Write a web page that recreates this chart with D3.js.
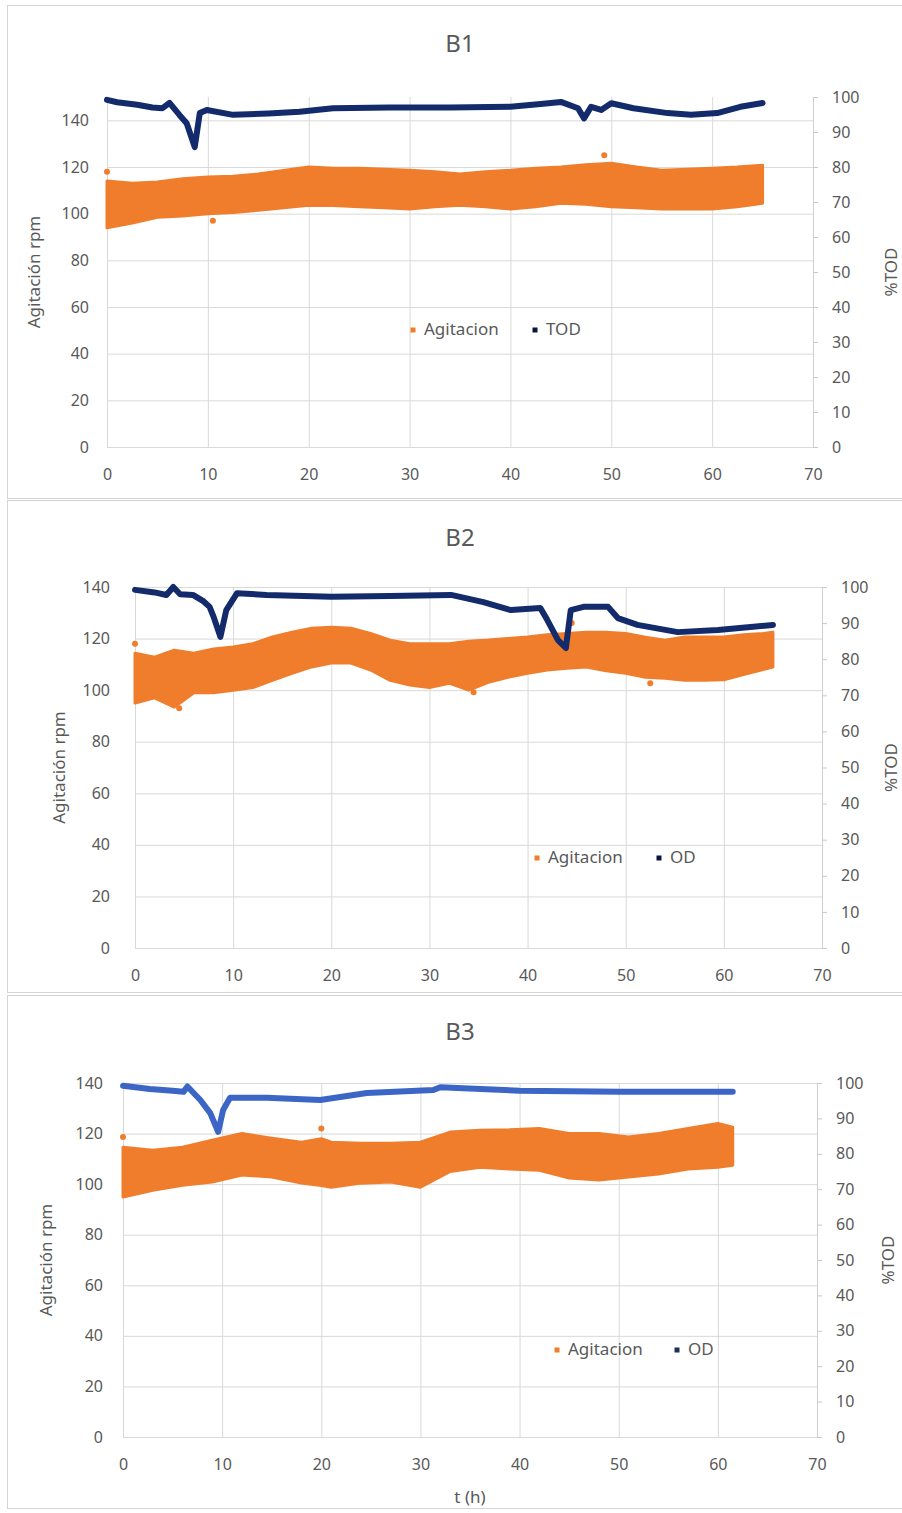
<!DOCTYPE html>
<html>
<head>
<meta charset="utf-8">
<script src="https://cdn.jsdelivr.net/npm/d3@7/dist/d3.min.js"></script>
<style>
  body { margin: 0; background: #fff; }
  text { font-family: "Noto Sans", "Open Sans", sans-serif; fill: #595959; }
</style>
</head>
<body>
<svg width="902" height="1513"></svg>
<script>
// ---- B1 ----
const b1TodTime = [0, 1, 3, 4.5, 5.5, 6.2, 7.2, 7.9, 8.7, 9.2, 9.9, 12.5, 16, 19.1, 22.4, 28, 34, 40, 43, 45, 46.7, 47.3, 48, 49, 50, 52.2, 55.6, 57.9, 60.5, 62.8, 65]
const b1Tod = [99.2, 98.5, 97.8, 97, 96.8, 98.3, 94.8, 92.5, 85.7, 95.4, 96.3, 94.9, 95.3, 95.8, 96.8, 97, 97, 97.2, 98, 98.6, 96.8, 93.9, 97.2, 96.3, 98.2, 96.8, 95.4, 94.9, 95.4, 97.2, 98.3]
const b1AgTime = [0, 2.5, 5, 7.5, 10, 12.5, 15, 17.5, 20, 22.5, 25, 27.5, 30, 32.5, 35, 37.5, 40, 42.5, 45, 47.5, 50, 52.5, 55, 57.5, 60, 62.5, 65]
const b1AgHigh = [114, 113, 113.6, 115, 115.7, 116, 117, 118.5, 120, 119.5, 119.5, 119, 118.6, 118, 117, 118, 118.6, 119.5, 120, 121, 121.6, 120, 118.6, 119, 119.5, 120, 120.8]
const b1AgLow = [94, 96, 98.5, 99, 100, 100.5, 101.5, 102.5, 103.6, 103.5, 103, 102.5, 102, 103, 103.6, 103, 102, 103, 104.5, 104, 103, 102.5, 102, 102, 102, 103, 104.5]
const b1OutTime = [0, 49.3, 10.5]
const b1OutVal = [118, 125, 97]

// ---- B2 ----
const b2OdTime = [0, 2, 3.2, 3.9, 4.6, 5.9, 7, 7.6, 8, 8.7, 9.3, 10.4, 13.4, 20, 26, 32.2, 35.5, 38.3, 41.3, 42, 43.1, 43.9, 44.4, 45.7, 48.2, 49.2, 51.2, 55.3, 59.4, 65]
const b2Od = [99.2, 98.5, 97.8, 100, 98, 97.8, 96, 94.5, 91.8, 86.2, 93.6, 98.3, 97.8, 97.3, 97.5, 97.8, 95.8, 93.6, 94.2, 90.9, 85.3, 83.1, 93.6, 94.5, 94.5, 91.4, 89.5, 87.5, 88.1, 89.5]
const b2AgTime = [0, 2, 4, 6, 8, 10, 12, 14, 16, 18, 20, 22, 24, 26, 28, 30, 32, 34, 36, 38, 40, 42, 44, 46, 48, 50, 52, 54, 56, 58, 60, 62, 64, 65]
const b2AgHigh = [114.3, 112.8, 115.5, 114.3, 116, 116.7, 118, 120.6, 122.5, 124, 124.4, 124, 122, 119.4, 118, 118, 118, 119, 119.4, 120, 120.6, 121.5, 122, 122.5, 122.5, 122, 120.5, 119.4, 120.6, 120.6, 120.6, 121.5, 122, 122.5]
const b2AgLow = [95, 97, 93.4, 99, 99, 100, 101, 103.8, 106.5, 109, 110.5, 110.5, 107.8, 103.8, 102, 101, 102.7, 100, 103, 105, 106.5, 107.8, 108.5, 109, 107.5, 106.5, 105, 104.6, 103.8, 103.8, 104, 106, 108, 109]
const b2OutTime = [0, 44.5, 34.5, 52.5, 4.5]
const b2OutVal = [118, 126, 99.2, 102.7, 93]

// ---- B3 ----
const b3OdTime = [0, 2.7, 5, 6.1, 6.5, 7.8, 8.8, 9.6, 10.1, 10.8, 14.5, 19.9, 24.6, 31.3, 32, 40, 50, 61.5]
const b3Od = [99.2, 98.3, 97.8, 97.5, 99, 95.2, 91.5, 86.2, 92.4, 95.8, 95.8, 95.2, 97.2, 98, 98.8, 97.8, 97.5, 97.5]
const b3AgTime = [0, 3, 6, 9, 12, 15, 18, 20, 21, 24, 27, 30, 33, 36, 39, 42, 45, 48, 51, 54, 57, 60, 61.5]
const b3AgHigh = [114.6, 113.4, 114.6, 117.4, 120, 118.2, 116.6, 118, 116.6, 116.2, 116.2, 116.6, 120.6, 121.3, 121.5, 122, 120, 120, 118.6, 120, 122, 124, 122.5]
const b3AgLow = [94.9, 97.6, 99.6, 100.8, 103.6, 102.8, 100.4, 99.5, 98.8, 100.4, 100.8, 98.8, 105, 106.7, 106, 105.5, 102.4, 101.6, 102.8, 104, 106, 106.7, 107.5]
const b3OutTime = [0, 20]
const b3OutVal = [118.6, 122]

const xTicks = [0, 10, 20, 30, 40, 50, 60, 70]
const rightTicks = [0, 10, 20, 30, 40, 50, 60, 70, 80, 90, 100]

var svg = d3.select("svg");

var orange = "#ef7d2c";

var panels = [
  { title: "B1", odName: "TOD", odTime: b1TodTime, od: b1Tod, agTime: b1AgTime, agHigh: b1AgHigh, agLow: b1AgLow, outTime: b1OutTime, outVal: b1OutVal,
    lineColor: "#132a6b", frameTop: 5, frameBottom: 498, left: 107, right: 813, top: 97, bottom: 447, leftMax: 150,
    titleY: 46, legendY: 330, legendX1: 413, legendX2: 535, leftPad: 18, leftTitleX: 35, rightTitleX: 892 },
  { title: "B2", odName: "OD", odTime: b2OdTime, od: b2Od, agTime: b2AgTime, agHigh: b2AgHigh, agLow: b2AgLow, outTime: b2OutTime, outVal: b2OutVal,
    lineColor: "#132a6b", frameTop: 500, frameBottom: 992, left: 135, right: 822, top: 587, bottom: 948, leftMax: 140,
    titleY: 540, legendY: 858, legendX1: 537, legendX2: 659, leftPad: 25, leftTitleX: 60, rightTitleX: 892 },
  { title: "B3", odName: "OD", odTime: b3OdTime, od: b3Od, agTime: b3AgTime, agHigh: b3AgHigh, agLow: b3AgLow, outTime: b3OutTime, outVal: b3OutVal,
    lineColor: "#3c66c6", frameTop: 995, frameBottom: 1508, left: 123, right: 817, top: 1083, bottom: 1437, leftMax: 140,
    titleY: 1034, legendY: 1350, legendX1: 557, legendX2: 677, leftPad: 20, leftTitleX: 47, rightTitleX: 889, xTitle: "t (h)" }
];

panels.forEach(drawPanel);

function drawPanel(p) {
  var x = d3.scaleLinear().domain([0, 70]).range([p.left, p.right]);
  var yL = d3.scaleLinear().domain([0, p.leftMax]).range([p.bottom, p.top]);
  var yR = d3.scaleLinear().domain([0, 100]).range([p.bottom, p.top]);

  var g = svg.append("g");

  g.append("rect")
    .attr("x", 7.5).attr("y", p.frameTop + 0.5)
    .attr("width", 900).attr("height", p.frameBottom - p.frameTop)
    .attr("fill", "none").attr("stroke", "#d4d4d4");

  // left axis doubles as horizontal grid
  var leftAxis = g.append("g")
    .attr("transform", "translate(" + p.left + ",0)")
    .call(d3.axisLeft(yL).tickValues(d3.range(0, 141, 20)).tickSize(-(p.right - p.left)).tickPadding(p.leftPad));
  leftAxis.select(".domain").remove();
  leftAxis.selectAll("line").attr("stroke", "#d9d9d9");

  var bottomAxis = g.append("g")
    .attr("transform", "translate(0," + p.bottom + ")")
    .call(d3.axisBottom(x).tickValues(xTicks).tickSize(-(p.bottom - p.top)).tickPadding(22));
  bottomAxis.select(".domain").remove();
  bottomAxis.selectAll("line").attr("stroke", "#d9d9d9");

  var rightAxis = g.append("g")
    .attr("transform", "translate(" + p.right + ",0)")
    .call(d3.axisRight(yR).tickValues(rightTicks).tickSize(5).tickSizeOuter(0).tickPadding(14));
  rightAxis.select(".domain").attr("stroke", "#d0d0d0");
  rightAxis.selectAll("line").attr("stroke", "#c8c8c8");

  g.selectAll(".tick text").attr("font-size", 16).attr("fill", "#6a6a6a");

  // agitation band
  var agData = p.agTime.map(function(t, i) { return { t: t, hi: p.agHigh[i], lo: p.agLow[i] }; });
  g.append("path")
    .datum(agData)
    .attr("fill", orange)
    .attr("stroke", orange)
    .attr("stroke-width", 3)
    .attr("stroke-linejoin", "round")
    .attr("d", d3.area()
      .x(function(d) { return x(d.t); })
      .y0(function(d) { return yL(d.lo); })
      .y1(function(d) { return yL(d.hi); }));

  g.selectAll(".outlier")
    .data(p.outTime.map(function(t, i) { return { t: t, v: p.outVal[i] }; }))
    .enter().append("circle")
    .attr("class", "outlier")
    .attr("cx", function(d) { return x(d.t); })
    .attr("cy", function(d) { return yL(d.v); })
    .attr("r", 3)
    .attr("fill", orange);

  // dissolved oxygen line
  var odData = p.odTime.map(function(t, i) { return { t: t, v: p.od[i] }; });
  g.append("path")
    .datum(odData)
    .attr("fill", "none")
    .attr("stroke", p.lineColor)
    .attr("stroke-width", 6)
    .attr("stroke-linejoin", "round")
    .attr("stroke-linecap", "round")
    .attr("d", d3.line()
      .x(function(d) { return x(d.t); })
      .y(function(d) { return yR(d.v); }));

  g.append("text")
    .attr("x", 460).attr("y", p.titleY)
    .attr("text-anchor", "middle").attr("dominant-baseline", "middle")
    .attr("font-size", 24)
    .text(p.title);

  g.append("text")
    .attr("transform", "translate(" + p.leftTitleX + "," + (p.top + p.bottom) / 2 + ") rotate(-90)")
    .attr("text-anchor", "middle").attr("dominant-baseline", "middle")
    .attr("font-size", 17)
    .text("Agitación rpm");

  g.append("text")
    .attr("transform", "translate(" + p.rightTitleX + "," + (p.top + p.bottom) / 2 + ") rotate(-90)")
    .attr("text-anchor", "middle").attr("dominant-baseline", "middle")
    .attr("font-size", 17)
    .text("%TOD");

  if (p.xTitle) {
    g.append("text")
      .attr("x", (p.left + p.right) / 2).attr("y", 1498)
      .attr("text-anchor", "middle").attr("dominant-baseline", "middle")
      .attr("font-size", 17)
      .text(p.xTitle);
  }

  // legend
  var legendItems = [
    { name: "Agitacion", color: orange, x: p.legendX1 },
    { name: p.odName, color: p.lineColor === "#132a6b" ? "#0b1538" : "#1e2f5e", x: p.legendX2 }
  ];
  var legend = g.selectAll(".legend")
    .data(legendItems)
    .enter().append("g")
    .attr("transform", function(d) { return "translate(" + d.x + "," + p.legendY + ")"; });
  legend.append("rect")
    .attr("x", -2.5).attr("y", -2.5).attr("width", 5).attr("height", 5)
    .attr("fill", function(d) { return d.color; });
  legend.append("text")
    .attr("x", 11).attr("dominant-baseline", "middle")
    .attr("font-size", 17)
    .text(function(d) { return d.name; });
}
</script>
</body>
</html>
